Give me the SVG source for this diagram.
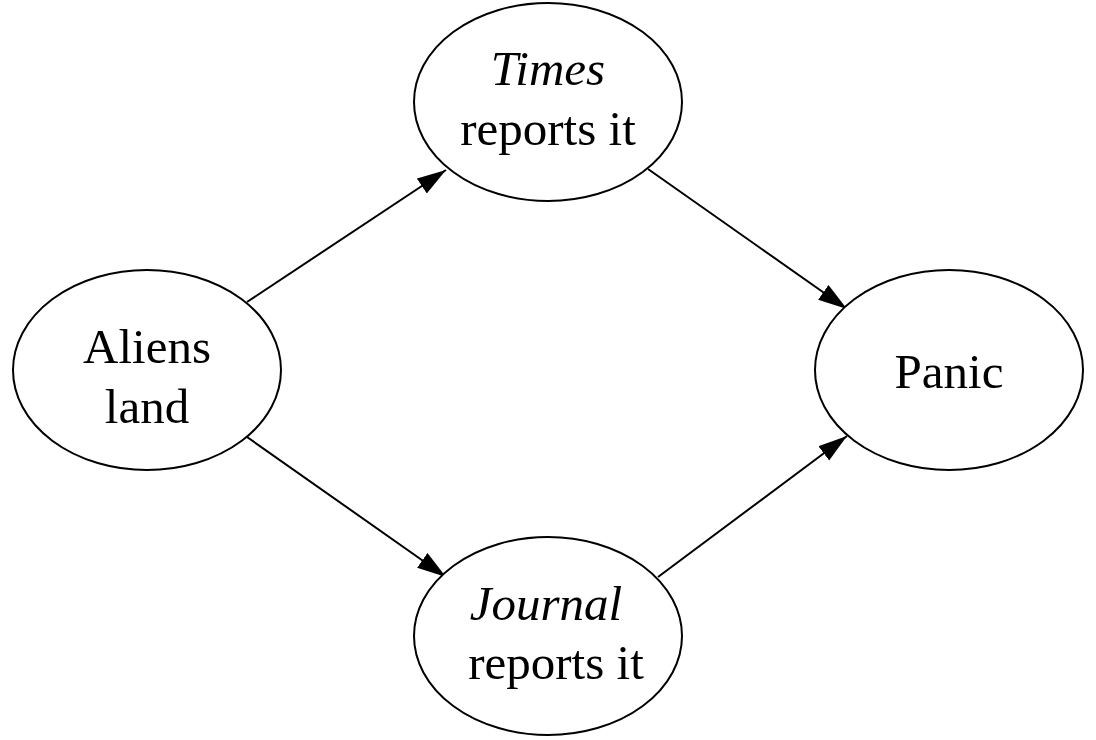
<svg xmlns="http://www.w3.org/2000/svg" width="1096" height="740" viewBox="0 0 1096 740">
<style>
.node ellipse{fill:#fff;stroke:#000;stroke-width:2}
.lbl{font-family:"Liberation Serif","Times New Roman",serif;font-size:49px;fill:#000;text-anchor:middle}
.it{font-style:italic}
.edge{stroke:#000;stroke-width:2;fill:none;marker-end:url(#arr)}
</style>
<defs>
<marker id="arr" markerUnits="userSpaceOnUse" markerWidth="30" markerHeight="20" refX="29" refY="9" orient="auto">
<path d="M0,0 L29,9 L0,18 z" fill="#000"/>
</marker>
</defs>
<rect width="1096" height="740" fill="#fff"/>
<g id="connectors">
<line class="edge" x1="247" y1="302" x2="446" y2="170"/>
<line class="edge" x1="648" y1="169" x2="847" y2="309"/>
<line class="edge" x1="247" y1="437" x2="446" y2="577"/>
<line class="edge" x1="658" y1="577" x2="847" y2="436"/>
</g>
<g id="node-times" class="node">
<ellipse cx="548" cy="102" rx="134" ry="99"/>
<text class="lbl it" x="548" y="85">Times</text>
<text class="lbl" x="548" y="145">reports it</text>
</g>
<g id="node-aliens" class="node">
<ellipse cx="147" cy="370" rx="134" ry="100"/>
<text class="lbl" x="147" y="363">Aliens</text>
<text class="lbl" x="147" y="423">land</text>
</g>
<g id="node-panic" class="node">
<ellipse cx="949" cy="370" rx="134" ry="100"/>
<text class="lbl" x="949" y="388">Panic</text>
</g>
<g id="node-journal" class="node">
<ellipse cx="548" cy="636" rx="134" ry="99"/>
<text class="lbl it" x="546" y="620">Journal</text>
<text class="lbl" x="556" y="679">reports it</text>
</g>
</svg>
